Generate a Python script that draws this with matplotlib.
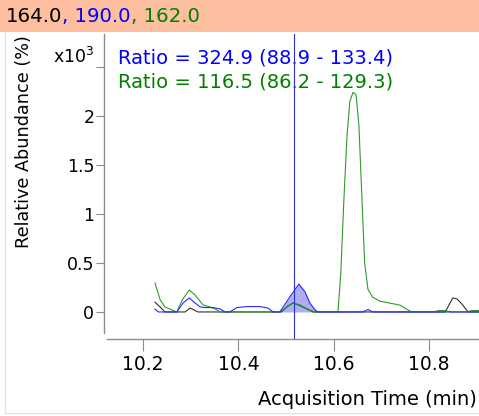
import matplotlib
matplotlib.use("Agg")
import matplotlib.pyplot as plt
import numpy as np
from matplotlib.lines import Line2D
from matplotlib.patches import Rectangle

# ---------------- data ----------------
header_labels = ["164.0", ", 190.0", ", 162.0"]
ratio_texts = ["Ratio = 324.9 (88.9 - 133.4)", "Ratio = 116.5 (86.2 - 129.3)"]

t_black = [10.225, 10.236, 10.246, 10.288, 10.299, 10.309, 10.315, 10.490, 10.504,
           10.515, 10.529, 10.544, 10.557, 10.834, 10.850, 10.859, 10.869, 10.882, 10.905]
y_black = [100, 50, 0, 0, 40, 15, 0, 0, 61, 92, 65, 30, 0, 0, 143, 133, 82, 0, 0]

t_blue = [10.225, 10.232, 10.271, 10.284, 10.297, 10.309, 10.320, 10.330, 10.347, 10.362,
          10.372, 10.382, 10.397, 10.418, 10.445, 10.462, 10.473, 10.487, 10.508, 10.527,
          10.540, 10.550, 10.561, 10.567, 10.661, 10.672, 10.682, 10.905]
y_blue = [30, 0, 0, 92, 143, 92, 51, 45, 45, 30, 0, 0, 45, 55, 55, 40, 0, 0, 153, 285,
          204, 92, 20, 0, 0, 25, 0, 0]

t_green = [10.225, 10.236, 10.246, 10.261, 10.271, 10.282, 10.297, 10.309, 10.326, 10.341,
           10.351, 10.362, 10.487, 10.502, 10.515, 10.529, 10.550, 10.561, 10.609, 10.615,
           10.621, 10.628, 10.634, 10.6405, 10.647, 10.653, 10.659, 10.665, 10.672, 10.682,
           10.697, 10.718, 10.739, 10.756, 10.764, 10.810, 10.820, 10.835, 10.845, 10.880,
           10.890, 10.905]
y_green = [296, 122, 51, 20, 0, 122, 224, 173, 71, 51, 30, 0, 0, 51, 92, 71, 20, 0, 0, 400,
           1100, 1800, 2150, 2240, 2220, 1900, 1200, 500, 230, 150, 110, 90, 70, 20, 0, 0,
           15, 15, 0, 0, 15, 15]

fill_start, fill_end = 10.487, 10.567
marker_time = 10.516

y_ticks = [0, 500, 1000, 1500, 2000, 2500]
y_tick_labels = ["0", "0.5", "1", "1.5", "2", "x10$^{3}$"]
x_ticks = [10.2, 10.4, 10.6, 10.8]
x_tick_labels = ["10.2", "10.4", "10.6", "10.8"]

# ---------------- figure ----------------
W, H = 479, 416
plt.rcParams['font.family'] = ['DejaVu Sans']
fig = plt.figure(figsize=(W / 100, H / 100), dpi=100)

# header band
fig.patches.append(Rectangle((0, 1 - 32 / H), 1, 32 / H, transform=fig.transFigure,
                             facecolor='#FDBFA0', edgecolor='none', zorder=0))
hdr_colors = ['black', '#0000FF', '#008000']
renderer = fig.canvas.get_renderer()
xpos = 6
for lab, col in zip(header_labels, hdr_colors):
    t = fig.text(xpos / W, 1 - 22 / H, lab, color=col, fontsize=14.2,
                 va='baseline', ha='left')
    bb = t.get_window_extent(renderer=renderer)
    xpos += bb.width

# faint frame lines
fig.add_artist(Line2D([5 / W, 5 / W], [1 - 413 / H, 1 - 32 / H], transform=fig.transFigure,
                      color='#E2E2E2', lw=1))
fig.add_artist(Line2D([5 / W, 1], [1 - 413 / H, 1 - 413 / H], transform=fig.transFigure,
                      color='#E2E2E2', lw=1))

ax_left, ax_right, ax_top, ax_bot = 104, 479, 34, 339
ax = fig.add_axes([ax_left / W, 1 - ax_bot / H, (ax_right - ax_left) / W, (ax_bot - ax_top) / H])
ax.set_xlim(10.118, 10.905)
ax.set_ylim(-276, 2837)

tb, yb = np.array(t_blue), np.array(y_blue)
mask = (tb >= fill_start) & (tb <= fill_end)
ax.fill_between(tb, yb, 0, where=mask, color='#ACAEF6', lw=0, zorder=1)
ax.plot(t_black, y_black, color='#303030', lw=0.8, zorder=2)
ax.plot(t_green, y_green, color='#2E9A2E', lw=0.8, zorder=3)
ax.plot(t_blue, y_blue, color='#2828FF', lw=0.8, zorder=4)
ax.axvline(marker_time, color='#3030D0', lw=0.8, zorder=5)

ax.text(118 / W, 1 - 63 / H, ratio_texts[0], transform=fig.transFigure, color='#0000FF',
        fontsize=14, va='baseline', ha='left')
ax.text(118 / W, 1 - 88 / H, ratio_texts[1], transform=fig.transFigure, color='#008000',
        fontsize=14, va='baseline', ha='left')

for s in ['top', 'right']:
    ax.spines[s].set_visible(False)
for s in ['left', 'bottom']:
    ax.spines[s].set_color('#8C8C8C')
    ax.spines[s].set_linewidth(1.0)
ax.spines['left'].set_bounds(-214, 2837)
ax.spines['bottom'].set_bounds(10.1245, 10.905)

ax.set_yticks(y_ticks)
ax.set_yticklabels(y_tick_labels)
ax.set_xticks(x_ticks)
ax.set_xticklabels(x_tick_labels)
ax.tick_params(axis='y', length=5.5, width=0.8, color='#8C8C8C', pad=1.5, labelsize=12.5)
ax.tick_params(axis='x', length=8.5, width=0.8, color='#8C8C8C', pad=3, labelsize=13.5)
ax.get_yticklabels()[-1].set_va('bottom')

fig.text(477 / W, 1 - 405 / H, "Acquisition Time (min)", ha='right', va='baseline', fontsize=14)
fig.text(33 / W, 1 - 142 / H, "Relative Abundance (%)", rotation=90, ha='right', va='center',
         fontsize=12.7)

fig.savefig("out.png", dpi=100)
